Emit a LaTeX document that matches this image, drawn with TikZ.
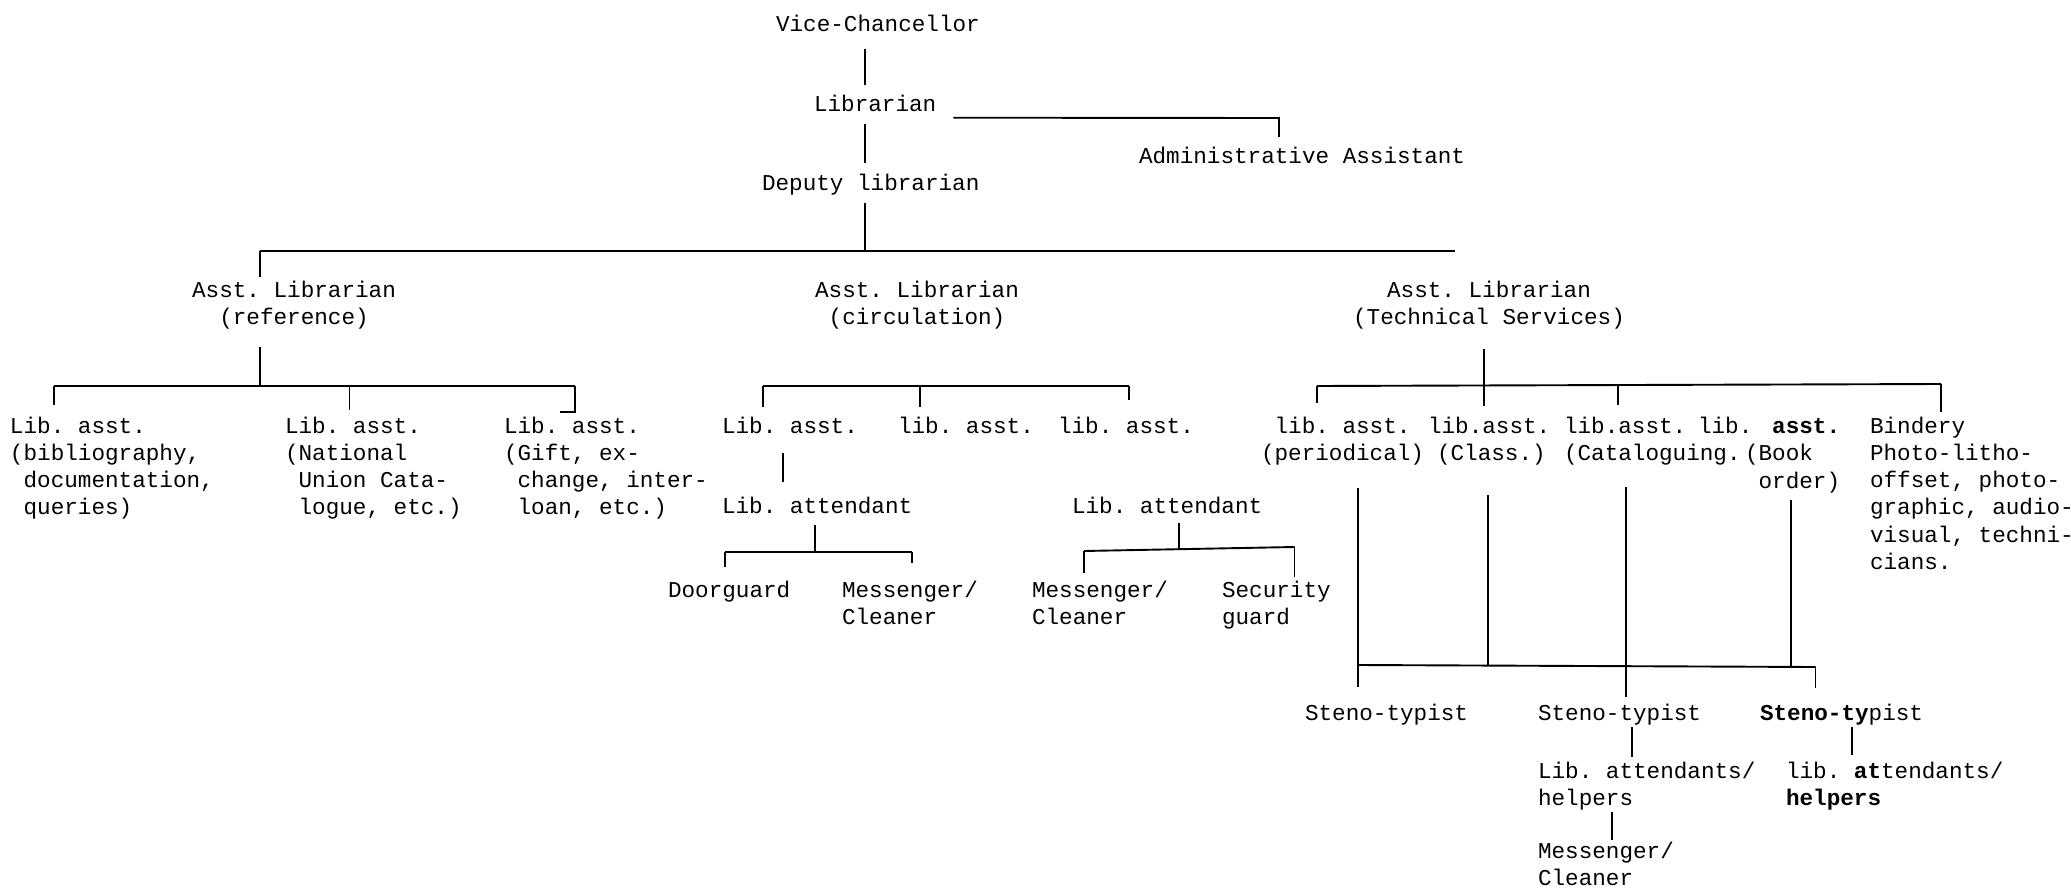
\documentclass[tikz,border=0pt]{standalone}
\usepackage{fontspec}
\newfontfamily\tw{Liberation Mono}
\usetikzlibrary{calc}
\newcommand\lns[1]{\begin{tabular}[t]{@{}l@{}}#1\end{tabular}}
\newcommand\clns[1]{\begin{tabular}[t]{@{}c@{}}#1\end{tabular}}
\begin{document}
\begin{tikzpicture}[x=0.5pt,y=-0.5pt,
  lbl/.style={anchor=base west, inner sep=0pt, outer sep=0pt, font=\tw\fontsize{11.32}{13.65}\selectfont\frenchspacing},
  head/.style={lbl, anchor=base},
  conn/.style={line width=0.95pt}]
\useasboundingbox (0,0) rectangle (2071,888);
% nodes
\node[lbl] (vc) at (776,31.7) {Vice-Chancellor};
\node[lbl] (lib) at (814,111.7) {Librarian};
\node[lbl] (adm) at (1139,163) {Administrative Assistant};
\node[lbl] (dep) at (762,191) {Deputy librarian};
\node[head] (ref) at (294,297) {\clns{Asst. Librarian\\(reference)}};
\node[head] (cir) at (917,297) {\clns{Asst. Librarian\\(circulation)}};
\node[head] (tec) at (1489,297) {\clns{Asst. Librarian\\(Technical Services)}};
\node[lbl] (la1) at (10,433) {\lns{Lib. asst.\\(bibliography,\\\hphantom{x}documentation,\\\hphantom{x}queries)}};
\node[lbl] (la2) at (285,433) {\lns{Lib. asst.\\(National\\\hphantom{x}Union Cata-\\\hphantom{x}logue, etc.)}};
\node[lbl] (la3) at (504,433) {\lns{Lib. asst.\\(Gift, ex-\\\hphantom{x}change, inter-\\\hphantom{x}loan, etc.)}};
\node[lbl] (ca1) at (722,433) {Lib. asst.};
\node[lbl] (ca2) at (898,433) {lib. asst.};
\node[lbl] (ca3) at (1058,433) {lib. asst.};
\node[lbl] (at1) at (722,513) {Lib. attendant};
\node[lbl] (at2) at (1072,513) {Lib. attendant};
\node[lbl] (dg) at (668,597) {Doorguard};
\node[lbl] (ms1) at (842,597) {\lns{Messenger/\\Cleaner}};
\node[lbl] (ms2) at (1032,597) {\lns{Messenger/\\Cleaner}};
\node[lbl] (sg) at (1222,597) {\lns{Security\\guard}};
\node[lbl] (ts1) at (1261,433) {\lns{\hphantom{x}lib. asst.\\(periodical)}};
\node[lbl] (ts2) at (1428,433) {\lns{lib.asst.\\\hspace{4.5pt}(Class.)}};
\node[lbl] (ts3) at (1564,433) {\lns{lib.asst.\\(Cataloguing.}};
\node[lbl] (ts4) at (1698,433) {lib.};
\node[lbl] (ts4b) at (1745,433.5) {\lns{\hphantom{xx}\textbf{asst.}\\(Book\\\hphantom{x}order)}};
\node[lbl] (bin) at (1870,433) {\lns{Bindery\\Photo-litho-\\offset, photo-\\graphic, audio-\\visual, techni-\\cians.}};
\node[lbl] (st1) at (1305,720) {Steno-typist};
\node[lbl] (st2) at (1538,720) {Steno-typist};
\node[lbl] (st3) at (1760,720) {\textbf{Steno-ty}pist};
\node[lbl] (ah1) at (1538,778) {\lns{Lib. attendants/\\helpers}};
\node[lbl] (ah2) at (1786,778) {\lns{lib. \textbf{at}tendants/\\\textbf{helpers}}};
\node[lbl] (ms3) at (1538,858) {\lns{Messenger/\\Cleaner}};
% junction coordinates
\coordinate (spine) at (865,251);
\coordinate (barL) at (260,251);
\coordinate (barR) at (1455,251);
\coordinate (admc) at (1279,118);
\coordinate (rL) at (53.6,386); \coordinate (rM) at (260,386);
\coordinate (rC) at (349.5,386); \coordinate (rR) at (575,386);
\coordinate (cL) at (762.7,386); \coordinate (cM) at (920,386); \coordinate (cR) at (1128.8,386);
\coordinate (aL) at (725.4,552); \coordinate (aM) at (814.6,552); \coordinate (aR) at (912,552);
\coordinate (gL) at (1084,551); \coordinate (gM) at (1179.3,549); \coordinate (gR) at (1294.5,547);
\coordinate (tL) at (1317,386); \coordinate (tM) at (1484,386); \coordinate (tC) at (1618,385.5); \coordinate (tR) at (1941,384);
\coordinate (bL) at (1358.4,665); \coordinate (b2) at (1488,665.3); \coordinate (b3) at (1626,665.8);
\coordinate (b4) at (1791,666.6); \coordinate (bR) at (1815.5,667);
% top connectors
\draw[conn] ($(vc.base -| spine)+(0,17)$) -- ($(lib.base -| spine)+(0,-27)$);
\draw[conn] ($(lib.base -| spine)+(0,12)$) -- ($(dep.base -| spine)+(0,-28)$);
\draw[conn] ($(dep.base -| spine)+(0,12)$) -- (spine);
\draw[conn] ($(lib.base east)+(17,6)$) -- (admc) -- ($(adm.base -| admc)+(0,-26)$);
\draw[conn] (barL) -- (barR);
\draw[conn] (barL) -- ($(ref.base -| barL)+(0,-20)$);
% reference group
\draw[conn] ($(ref.base -| rM)+(0,50)$) -- (rM);
\draw[conn] (rL) -- (rR);
\draw[conn] (rL) -- ($(la1.base -| rL)+(0,-28)$);
\draw[conn] (rC) -- ($(la2.base -| rC)+(0,-23)$);
\draw[conn] (rR) -- ($(la3.base -| rR)+(0,-21)$) -- ($(la3.base -| rR)+(-15,-21)$);
% circulation group
\draw[conn] (cL) -- (cR);
\draw[conn] (cL) -- ($(ca1.base -| cL)+(0,-26)$);
\draw[conn] (cM) -- ($(ca2.base -| cM)+(0,-26)$);
\draw[conn] (cR) -- ($(ca3.base -| cR)+(0,-33)$);
\draw[conn] ($(ca1.base west)+(60.6,20)$) -- ($(at1.base west)+(60.6,-31)$);
\draw[conn] ($(at1.base -| aM)+(0,12)$) -- (aM);
\draw[conn] (aL) -- (aR);
\draw[conn] (aL) -- ($(dg.base -| aL)+(0,-30)$);
\draw[conn] (aR) -- ($(ms1.base -| aR)+(0,-34)$);
\draw[conn] ($(at2.base -| gM)+(0,10)$) -- (gM);
\draw[conn] (gL) -- (gR);
\draw[conn] (gL) -- ($(ms2.base -| gL)+(0,-24)$);
\draw[conn] (gR) -- ($(sg.base -| gR)+(0,-20)$);
% technical services group
\draw[conn] ($(tec.base -| tM)+(0,52)$) -- ($(ts2.base -| tM)+(0,-27)$);
\draw[conn] (tL) -- (tR);
\draw[conn] (tL) -- ($(ts1.base -| tL)+(0,-30)$);
\draw[conn] (tC) -- ($(ts3.base -| tC)+(0,-28)$);
\draw[conn] (tR) -- ($(bin.base -| tR)+(0,-21)$);
\draw[conn] ($(ts1.base -| bL)+(0,55)$) -- ($(st1.base -| bL)+(0,-33)$);
\draw[conn] ($(ts2.base -| b2)+(0,62)$) -- (b2);
\draw[conn] ($(ts3.base -| b3)+(0,54)$) -- ($(st2.base -| b3)+(0,-23)$);
\draw[conn] ($(ts4b.base -| b4)+(0,66)$) -- (b4);
\draw[conn] (bL) -- (bR);
\draw[conn] (bR) -- ($(st3.base -| bR)+(0,-32)$);
\draw[conn] ($(st2.base west)+(94,7)$) -- ($(ah1.base west)+(94,-21)$);
\draw[conn] ($(st3.base west)+(92,7)$) -- ($(ah2.base west)+(66,-23)$);
\draw[conn] ($(ah1.base west)+(74,34)$) -- ($(ms3.base west)+(74,-18)$);
\end{tikzpicture}
\end{document}
